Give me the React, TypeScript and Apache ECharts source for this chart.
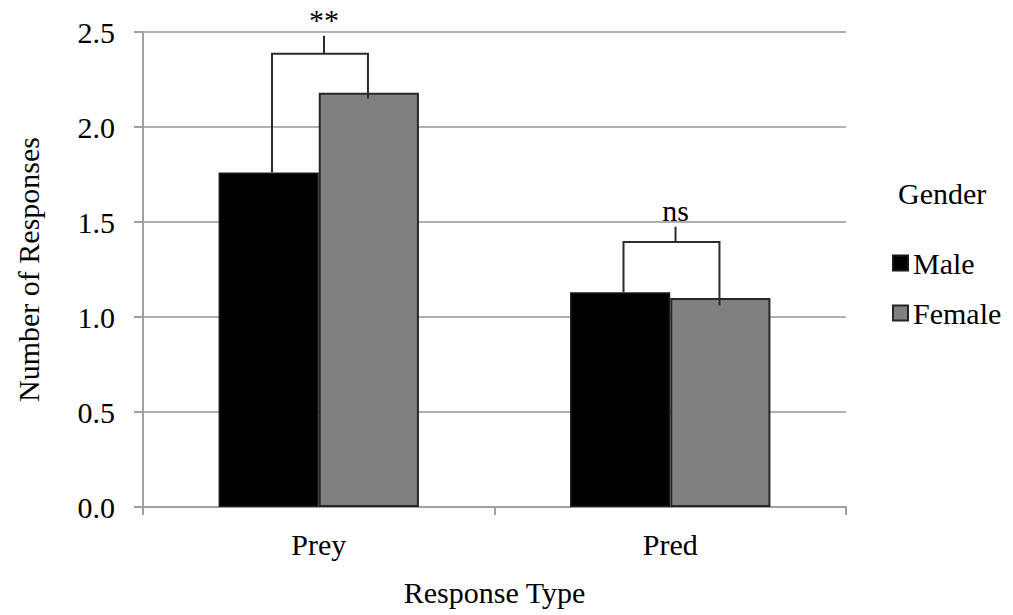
import React, { useEffect, useRef } from "react";
import * as echarts from "echarts";

const categories = ["Prey", "Pred"];
const maleValues = [1.76, 1.13];
const femaleValues = [2.18, 1.1];
const yTicks = { min: 0, max: 2.5, interval: 0.5 };
// significance brackets (values in data units)
const bracketTop = [2.385, 1.395];
const bracketTickTop = [2.48, 1.475];
const bracketLeftEnd = [1.76, 1.13];
const bracketRightEnd = [2.15, 1.06];
const bracketLabels = ["**", "ns"];

const FONT = "Times New Roman";
const FS = 30;

export default function App() {
  const ref = useRef<HTMLDivElement>(null);
  useEffect(() => {
    document.body.style.margin = "0";
    const chart = echarts.init(ref.current!, null, { renderer: "svg" });
    const bracketData = categories.map((_, i) => [
      i,
      bracketTop[i],
      bracketTickTop[i],
      bracketLeftEnd[i],
      bracketRightEnd[i],
    ]);
    chart.setOption({
      animation: false,
      backgroundColor: "#ffffff",
      textStyle: { fontFamily: FONT, color: "#000" },
      title: {
        text: "Gender",
        left: 893,
        top: 173,
        textStyle: { fontFamily: FONT, fontSize: FS, fontWeight: "normal", color: "#000" },
      },
      legend: {
        data: ["Male", "Female"],
        orient: "vertical",
        left: 887,
        top: 243,
        icon: "rect",
        itemWidth: 15,
        itemHeight: 15,
        itemGap: 20,
        textStyle: { fontFamily: FONT, fontSize: FS, color: "#000", lineHeight: 30 },
      },
      grid: { left: 143, right: 167, top: 32, bottom: 108, containLabel: false },
      xAxis: {
        type: "category",
        data: categories,
        name: "Response Type",
        nameLocation: "middle",
        nameGap: 70,
        nameTextStyle: { fontFamily: FONT, fontSize: FS, color: "#000" },
        axisLine: { lineStyle: { color: "#a0a0a0", width: 2 } },
        axisTick: { show: true, length: 8, lineStyle: { color: "#a0a0a0", width: 2 } },
        axisLabel: { fontFamily: FONT, fontSize: FS, color: "#000", margin: 22 },
      },
      yAxis: {
        type: "value",
        min: yTicks.min,
        max: yTicks.max,
        interval: yTicks.interval,
        name: "Number of Responses",
        nameLocation: "middle",
        nameGap: 100,
        nameTextStyle: { fontFamily: FONT, fontSize: FS, color: "#000" },
        axisLine: { show: true, lineStyle: { color: "#a0a0a0", width: 2 } },
        axisTick: { show: true, length: 9, lineStyle: { color: "#a0a0a0", width: 2 } },
        axisLabel: {
          fontFamily: FONT,
          fontSize: FS,
          color: "#000",
          margin: 28,
          formatter: (v: number) => v.toFixed(1),
        },
        splitLine: { lineStyle: { color: "#b0b0b0", width: 2 } },
      },
      series: [
        {
          name: "Male",
          type: "bar",
          data: maleValues,
          barGap: "0%",
          barCategoryGap: "43%",
          itemStyle: { color: "#000000", borderColor: "#1a1a1a", borderWidth: 1.5 },
        },
        {
          name: "Female",
          type: "bar",
          data: femaleValues,
          barGap: "0%",
          barCategoryGap: "43%",
          itemStyle: { color: "#808080", borderColor: "#262626", borderWidth: 2 },
        },
        {
          name: "brackets",
          type: "custom",
          data: bracketData,
          encode: { x: 0, y: [1, 2, 3, 4] },
          z: 10,
          renderItem: (params: any, api: any) => {
            const idx = api.value(0);
            const band = api.size([1, 0])[0];
            const center = api.coord([idx, api.value(1)]);
            const yTop = center[1];
            const yTick = api.coord([idx, api.value(2)])[1];
            const yLeft = api.coord([idx, api.value(3)])[1];
            const yRight = api.coord([idx, api.value(4)])[1];
            const xl = center[0] - band * 0.133;
            const xr = center[0] + band * 0.14;
            const xt = center[0] + band * 0.015;
            const stroke = { stroke: "#2b2b2b", lineWidth: 2, fill: null };
            return {
              type: "group",
              children: [
                {
                  type: "polyline",
                  shape: { points: [[xl, yLeft], [xl, yTop], [xr, yTop], [xr, yRight]] },
                  style: stroke,
                },
                {
                  type: "line",
                  shape: { x1: xt, y1: yTop, x2: xt, y2: yTick },
                  style: stroke,
                },
                {
                  type: "text",
                  x: xt,
                  y: yTick - 1,
                  style: {
                    text: bracketLabels[params.dataIndex],
                    fontFamily: FONT,
                    fontSize: FS,
                    fill: "#000",
                    align: "center",
                    verticalAlign: "bottom",
                  },
                },
              ],
            };
          },
        },
      ],
    });
    return () => chart.dispose();
  }, []);
  return <div ref={ref} style={{ width: 1013, height: 615 }} />;
}
